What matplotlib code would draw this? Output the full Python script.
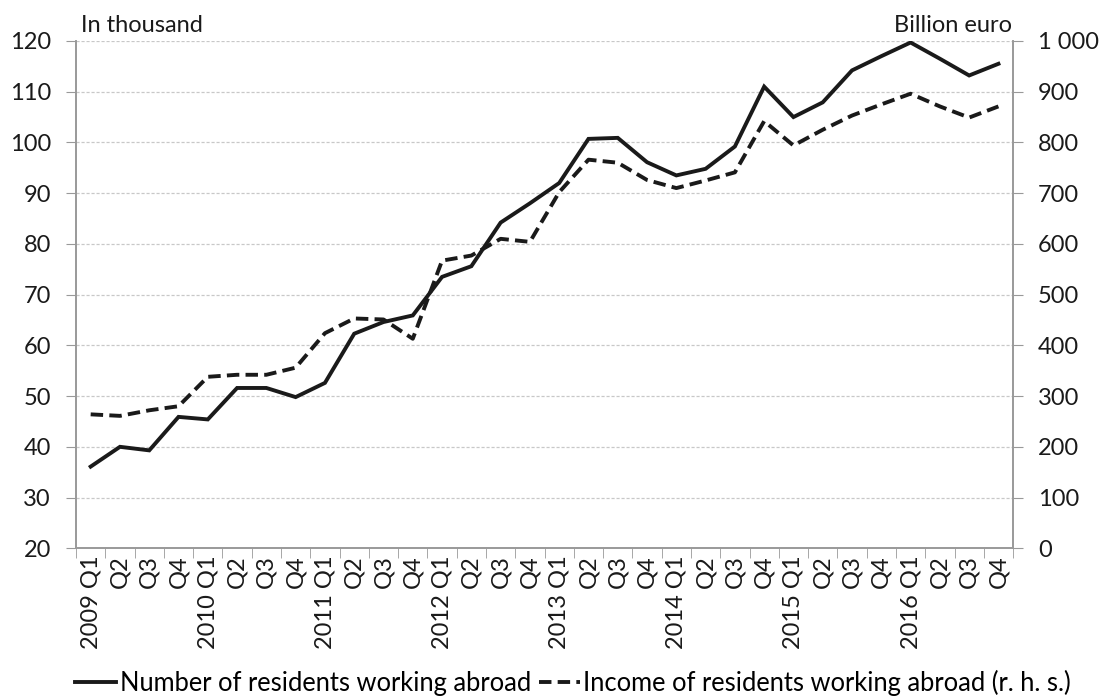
import matplotlib
matplotlib.use('Agg')
import matplotlib.pyplot as plt
import numpy as np

plt.rcParams['font.family'] = ['Lato', 'DejaVu Sans']

years = ['2009', '2010', '2011', '2012', '2013', '2014', '2015', '2016']
quarters = ['Q1', 'Q2', 'Q3', 'Q4']
labels = []
for y in years:
    for q in quarters:
        labels.append(y + ' ' + q if q == 'Q1' else q)

# number of residents working abroad, in thousand (left axis)
residents = [36.1, 40.0, 39.3, 45.9, 45.4, 51.6, 51.6, 49.8,
             52.6, 62.3, 64.6, 65.9, 73.5, 75.6, 84.2, 88.0,
             92.0, 100.7, 100.9, 96.1, 93.5, 94.8, 99.2, 111.0,
             105.0, 107.9, 114.2, 117.0, 119.7, 116.5, 113.2, 115.5]
# income of residents working abroad, billion euro (right axis)
income = [264, 261, 272, 280, 338, 342, 342, 356,
          424, 453, 451, 413, 567, 577, 610, 604,
          702, 766, 760, 726, 710, 725, 741, 842,
          794, 825, 853, 875, 896, 871, 849, 871]

fs = 17
ink = '#1a1a1a'

fig = plt.figure(figsize=(11.02, 6.98), dpi=100)
ax = fig.add_axes([0.0690, 0.2145, 0.8503, 0.7268])
ax2 = ax.twinx()

x = np.arange(len(labels))
l1, = ax.plot(x, residents, color=ink, lw=2.8, solid_joinstyle='miter')
l2, = ax2.plot(x, income, color=ink, lw=2.8, dashes=(3.2, 1.6))

ax.set_xlim(-0.5, len(labels) - 0.5)
ax.set_ylim(20, 120)
ax2.set_ylim(0, 1000)
ax.set_yticks(np.arange(20, 121, 10))
ax2.set_yticks(np.arange(0, 1001, 100))
ax2.set_yticklabels([f'{v:,}'.replace(',', ' ') for v in range(0, 1001, 100)])

ax.set_xticks(x)
ax.set_xticklabels(labels, rotation=90, fontsize=fs, color=ink)
ax.set_xticks(np.arange(-0.5, len(labels)), minor=True)
ax.tick_params(axis='x', which='major', length=0, pad=5)
ax.tick_params(axis='x', which='minor', length=7, color='#999999', direction='out')
ax.tick_params(axis='y', length=7, color='#999999', labelsize=fs, labelcolor=ink, pad=11)
ax2.tick_params(axis='y', length=7, color='#999999', labelsize=fs, labelcolor=ink, pad=11)

ax.yaxis.grid(True, color='#c8c8c8', linestyle=(0, (2.5, 1.5)), linewidth=0.9)
ax.set_axisbelow(True)
for a in (ax, ax2):
    a.spines['top'].set_visible(False)
    for s in ('left', 'right', 'bottom'):
        a.spines[s].set_color('#999999')
        a.spines[s].set_linewidth(1.2)

ax.text(0.005, 1.01, 'In thousand', transform=ax.transAxes, fontsize=fs,
        color=ink, ha='left', va='bottom')
ax.text(0.999, 1.01, 'Billion euro', transform=ax.transAxes, fontsize=fs,
        color=ink, ha='right', va='bottom')

fig.legend([l1, l2], ['Number of residents working abroad',
                      'Income of residents working abroad (r. h. s.)'],
           loc='lower center', bbox_to_anchor=(0.52, -0.03), ncol=2, frameon=False,
           fontsize=18.4, handlelength=1.6, handletextpad=0.15, columnspacing=0.3)

fig.savefig('out.png', dpi=100)
